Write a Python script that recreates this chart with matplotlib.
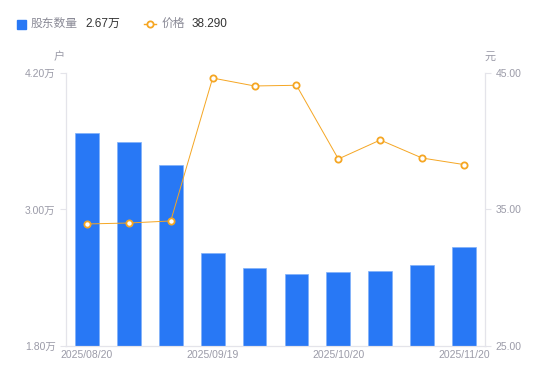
import matplotlib.pyplot as plt
import numpy as np

plt.rcParams['font.family'] = ['Liberation Sans', 'Noto Sans CJK SC', 'DejaVu Sans']

dates = ['2025/08/20', '', '', '2025/09/19', '', '', '2025/10/20', '', '', '2025/11/20']
holders = [3.67, 3.59, 3.39, 2.62, 2.49, 2.43, 2.45, 2.46, 2.51, 2.67]  # 万户
price = [33.94, 34.01, 34.16, 44.63, 44.05, 44.10, 38.70, 40.09, 38.77, 38.29]

blue = '#2878f5'
orange = '#f5a623'
grey = '#9b9ba8'
line_c = '#e4e4ea'

fig = plt.figure(figsize=(5.5, 3.81), dpi=100)
ax = fig.add_axes([0.12, 0.0919, 0.7618, 0.7165])
x = np.arange(len(holders))

ax.bar(x, holders, width=0.57, color=blue, edgecolor='#7fb0fa', linewidth=0.5, zorder=2)
ax.set_xlim(-0.5, len(holders) - 0.5)
ax.set_ylim(1.8, 4.2)
ax.set_yticks([1.8, 3.0, 4.2])
ax.set_yticklabels(['1.80万', '3.00万', '4.20万'])
ax.set_xticks(x)
ax.set_xticklabels(dates)

ax2 = ax.twinx()
ax2.plot(x, price, color=orange, linewidth=0.7, marker='o', markersize=4.5,
         markerfacecolor='white', markeredgecolor=orange, markeredgewidth=1.3, zorder=3)
ax2.set_ylim(25, 45)
ax2.set_yticks([25, 35, 45])
ax2.set_yticklabels(['25.00', '35.00', '45.00'])

for a in (ax, ax2):
    for s in a.spines.values():
        s.set_color(line_c)
        s.set_linewidth(0.8)
    a.spines['top'].set_visible(False)
    a.tick_params(colors=line_c, labelcolor=grey, labelsize=7.5, length=4, width=0.8)
ax.tick_params(axis='x', length=0, pad=3)

fig.text(59 / 550, 1 - 57 / 381, '户', color=grey, fontsize=8, ha='center', va='center')
fig.text(490 / 550, 1 - 57 / 381, '元', color=grey, fontsize=8, ha='center', va='center')

# legend
ly = 1 - 24 / 381
fig.patches.append(plt.Rectangle((17 / 550, 1 - 29 / 381), 9 / 550, 9 / 381,
                                 transform=fig.transFigure, color=blue))
fig.text(31 / 550, ly, '股东数量', color='#8a8a96', fontsize=8.5, va='center')
fig.text(85 / 550, ly, '2.67万', color='#333333', fontsize=8.5, va='center')
fig.lines.append(plt.Line2D([144 / 550, 156 / 550], [ly, ly], transform=fig.transFigure,
                            color=orange, linewidth=1))
fig.lines.append(plt.Line2D([150 / 550], [ly], transform=fig.transFigure, marker='o',
                            markersize=4.5, color=orange, markerfacecolor='white',
                            markeredgewidth=1.3))
fig.text(162 / 550, ly, '价格', color='#8a8a96', fontsize=8.5, va='center')
fig.text(192 / 550, ly, '38.290', color='#333333', fontsize=8.5, va='center')

fig.savefig('out.png', dpi=100)
